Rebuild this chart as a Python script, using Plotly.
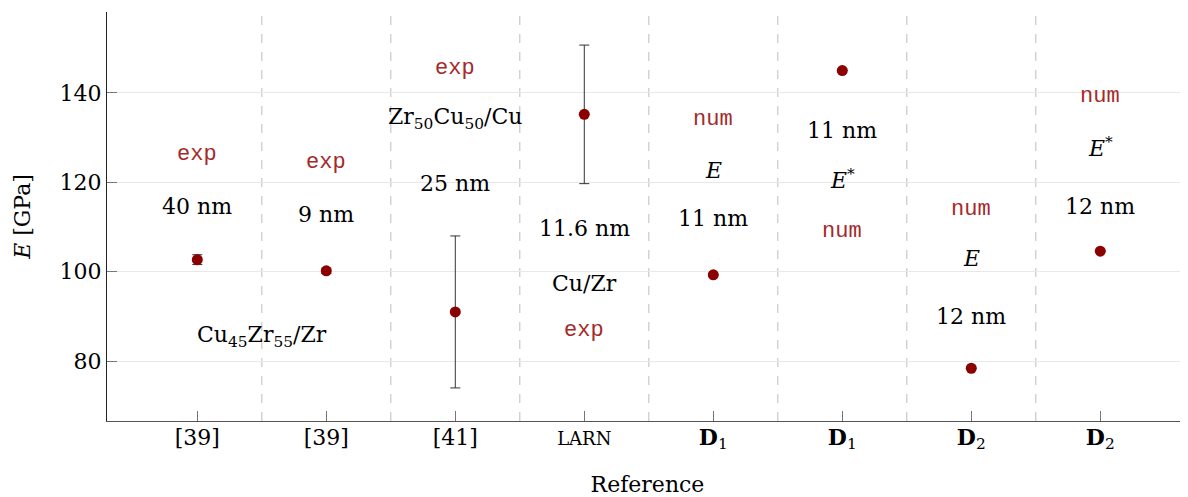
import plotly.graph_objects as go

# ---- data ----
references = ["[39]", "[39]", "[41]", "LARN", "D1", "D1", "D2", "D2"]
tick_labels = ["[39]", "[39]", "[41]",
               "<span style='font-size:18px'>LARN</span>",
               "<b>D</b><sub>1</sub>", "<b>D</b><sub>1</sub>",
               "<b>D</b><sub>2</sub>", "<b>D</b><sub>2</sub>"]
E_values = [102.7, 100.2, 91.0, 135.2, 99.3, 145.0, 78.4, 104.6]
E_errors = [1.1, 0.6, 17.0, 15.5, 0.0, 0.0, 0.0, 0.0]

# annotation texts (label, column, E-level)
RED = "#A52A2A"
notes = [
    ("exp", 0, 126.3, "red"), ("40 nm", 0, 114.5, "k"),
    ("Cu<sub>45</sub>Zr<sub>55</sub>/Zr", 0.5, 85.5, "k"),
    ("exp", 1, 124.5, "red"), ("9 nm", 1, 112.7, "k"),
    ("exp", 2, 145.4, "red"), ("Zr<sub>50</sub>Cu<sub>50</sub>/Cu", 2, 134.2, "k"),
    ("25 nm", 2, 119.7, "k"),
    ("11.6 nm", 3, 109.6, "k"), ("Cu/Zr", 3, 97.3, "k"), ("exp", 3, 86.8, "red"),
    ("num", 4, 134.0, "red"), ("<i>E</i>", 4, 122.6, "k"), ("11 nm", 4, 111.9, "k"),
    ("11 nm", 5, 131.5, "k"), ("<i>E</i><sup>*</sup>", 5, 120.7, "k"), ("num", 5, 109.1, "red"),
    ("num", 6, 113.9, "red"), ("<i>E</i>", 6, 102.9, "k"), ("12 nm", 6, 89.9, "k"),
    ("num", 7, 139.1, "red"), ("<i>E</i><sup>*</sup>", 7, 127.9, "k"), ("12 nm", 7, 114.7, "k"),
]

x_idx = list(range(len(references)))
SERIF = "DejaVu Serif, Liberation Serif, serif"
MONO = "Liberation Mono, DejaVu Sans Mono, monospace"

fig = go.Figure()
fig.add_trace(go.Scatter(
    x=x_idx, y=E_values, mode="markers",
    marker=dict(color="#8B0000", size=11),
    error_y=dict(type="data", array=E_errors, visible=True,
                 color="#333333", thickness=1, width=5),
    showlegend=False,
))

# dashed separators between categories
for i in range(len(references) - 1):
    fig.add_shape(type="line", xref="x", yref="paper",
                  x0=i + 0.5, x1=i + 0.5, y0=0, y1=1,
                  line=dict(color="#c8c8c8", width=1.2, dash="dash"), layer="below")

for text, xc, yv, col in notes:
    if col == "red":
        font = dict(family=MONO, size=22, color=RED)
    else:
        font = dict(family=SERIF, size=22, color="black")
    fig.add_annotation(x=xc, y=yv, text=text, showarrow=False, font=font,
                       xanchor="center", yanchor="middle")

fig.update_layout(
    width=1188, height=497,
    margin=dict(l=99, r=8, t=4, b=84),
    plot_bgcolor="white", paper_bgcolor="white",
    font=dict(family=SERIF, size=22, color="black"),
    xaxis=dict(range=[-0.7, 7.68], tickmode="array", tickvals=x_idx, ticktext=tick_labels,
               showgrid=False, zeroline=False, showline=True, linecolor="#555555", linewidth=1.3,
               ticks="inside", ticklen=10, tickcolor="#777777", automargin=False,
               ticklabelstandoff=-4,
               tickfont=dict(family=SERIF, size=22),
               title=dict(text="Reference", font=dict(family=SERIF, size=22), standoff=24)),
    yaxis=dict(range=[66.6, 158.1], tickvals=[80, 100, 120, 140],
               showgrid=True, gridcolor="#e8e8e8", gridwidth=1.2, zeroline=False,
               showline=True, linecolor="#222222", linewidth=1.3,
               ticks="inside", ticklen=10, tickcolor="#777777", automargin=False,
               tickfont=dict(family=SERIF, size=22),
               title=dict(text="<i>E</i> [GPa]", font=dict(family=SERIF, size=22), standoff=22)),
)

fig.write_html("out.html")
